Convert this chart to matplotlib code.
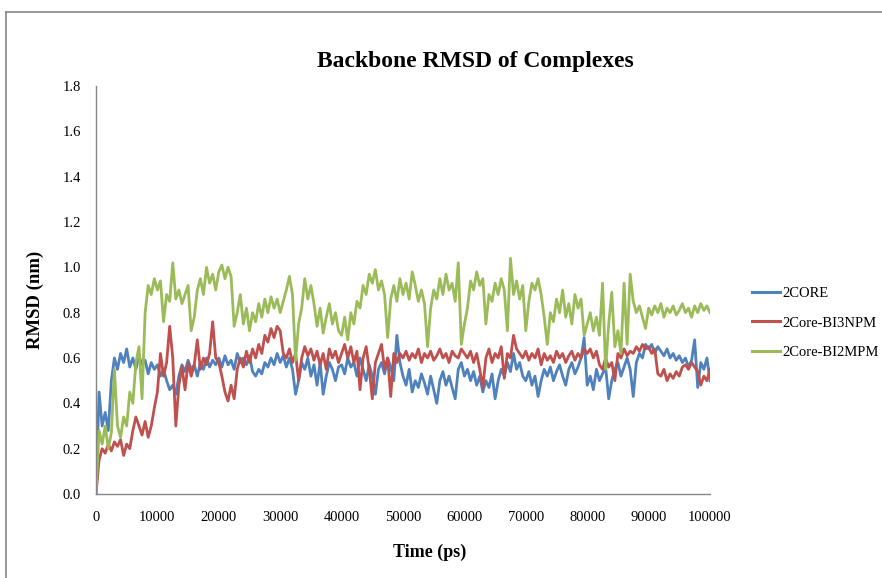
import matplotlib

matplotlib.use("Agg")
import matplotlib.pyplot as plt
import numpy as np
from matplotlib.lines import Line2D


# RMSD values, one value every 500 ps (one row = 10000 ps)
TIME_STEP_PS = 500
CORE = [
    0.00, 0.45, 0.30, 0.36, 0.28, 0.50, 0.60, 0.55, 0.62, 0.58, 0.64, 0.56, 0.60, 0.55, 0.61, 0.57, 0.59, 0.53, 0.58, 0.55,
    0.57, 0.52, 0.55, 0.50, 0.46, 0.48, 0.44, 0.52, 0.57, 0.54, 0.59, 0.55, 0.57, 0.52, 0.58, 0.55, 0.60, 0.56, 0.59, 0.57,
    0.60, 0.56, 0.61, 0.57, 0.59, 0.55, 0.62, 0.58, 0.60, 0.57, 0.61, 0.54, 0.52, 0.55, 0.53, 0.58, 0.56, 0.60, 0.57, 0.62,
    0.58, 0.61, 0.56, 0.60, 0.55, 0.44, 0.50, 0.58, 0.55, 0.60, 0.52, 0.57, 0.48, 0.58, 0.44, 0.52, 0.58, 0.55, 0.50, 0.56,
    0.57, 0.53, 0.60, 0.56, 0.58, 0.52, 0.60, 0.55, 0.50, 0.57, 0.52, 0.44, 0.55, 0.58, 0.53, 0.60, 0.56, 0.50, 0.70, 0.58,
    0.52, 0.48, 0.55, 0.45, 0.50, 0.47, 0.53, 0.49, 0.44, 0.52, 0.46, 0.40, 0.50, 0.54, 0.48, 0.52, 0.47, 0.42, 0.55, 0.58,
    0.52, 0.55, 0.50, 0.54, 0.48, 0.52, 0.45, 0.50, 0.47, 0.53, 0.42, 0.50, 0.55, 0.52, 0.58, 0.54, 0.62, 0.55, 0.58, 0.52,
    0.50, 0.54, 0.48, 0.52, 0.43, 0.50, 0.55, 0.52, 0.56, 0.50, 0.54, 0.57, 0.52, 0.48, 0.55, 0.58, 0.53, 0.56, 0.60, 0.69,
    0.48, 0.52, 0.46, 0.55, 0.50, 0.53, 0.56, 0.42, 0.50, 0.55, 0.58, 0.52, 0.56, 0.60, 0.55, 0.43, 0.58, 0.62, 0.60, 0.66,
    0.64, 0.66, 0.62, 0.65, 0.63, 0.61, 0.64, 0.60, 0.62, 0.59, 0.61, 0.58, 0.60, 0.56, 0.59, 0.68, 0.47, 0.58, 0.55, 0.60,
    0.50,
]
BI3NPM = [
    0.00, 0.15, 0.20, 0.18, 0.22, 0.19, 0.23, 0.21, 0.24, 0.17, 0.22, 0.20, 0.28, 0.34, 0.30, 0.26, 0.32, 0.25, 0.30, 0.38,
    0.45, 0.62, 0.52, 0.58, 0.74, 0.60, 0.30, 0.48, 0.56, 0.46, 0.58, 0.52, 0.57, 0.68, 0.55, 0.60, 0.57, 0.62, 0.76, 0.60,
    0.58, 0.52, 0.45, 0.41, 0.48, 0.42, 0.55, 0.60, 0.56, 0.63, 0.58, 0.64, 0.60, 0.66, 0.62, 0.70, 0.67, 0.73, 0.69, 0.74,
    0.72, 0.62, 0.60, 0.64, 0.58, 0.62, 0.50, 0.60, 0.65, 0.61, 0.64, 0.59, 0.63, 0.57, 0.62, 0.55, 0.64, 0.60, 0.63, 0.58,
    0.62, 0.66, 0.60, 0.65, 0.58, 0.63, 0.46, 0.60, 0.65, 0.55, 0.42, 0.58, 0.62, 0.66, 0.55, 0.60, 0.43, 0.62, 0.58, 0.62,
    0.60, 0.63, 0.59, 0.62, 0.60, 0.64, 0.58, 0.62, 0.60, 0.63, 0.59, 0.61, 0.64, 0.60, 0.62, 0.58, 0.63, 0.61, 0.60, 0.64,
    0.62, 0.60, 0.63, 0.58, 0.62, 0.55, 0.47, 0.60, 0.64, 0.58, 0.62, 0.60, 0.65, 0.51, 0.62, 0.60, 0.70, 0.64, 0.62, 0.60,
    0.63, 0.59, 0.62, 0.60, 0.64, 0.57, 0.62, 0.59, 0.61, 0.58, 0.63, 0.60, 0.62, 0.58, 0.61, 0.63, 0.59, 0.62, 0.60, 0.64,
    0.62, 0.64, 0.60, 0.63, 0.57, 0.55, 0.60, 0.56, 0.58, 0.50, 0.62, 0.60, 0.64, 0.61, 0.63, 0.62, 0.65, 0.63, 0.66, 0.64,
    0.65, 0.62, 0.64, 0.53, 0.52, 0.55, 0.50, 0.53, 0.51, 0.54, 0.52, 0.56, 0.57, 0.55, 0.58, 0.56, 0.54, 0.48, 0.52, 0.50,
    0.55,
]
BI2MPM = [
    0.00, 0.28, 0.22, 0.30, 0.20, 0.27, 0.55, 0.30, 0.25, 0.34, 0.30, 0.45, 0.40, 0.58, 0.65, 0.42, 0.80, 0.92, 0.88, 0.95,
    0.90, 0.94, 0.76, 0.88, 0.85, 1.02, 0.86, 0.90, 0.84, 0.88, 0.92, 0.72, 0.78, 0.90, 0.95, 0.88, 1.00, 0.93, 0.97, 0.90,
    0.98, 1.01, 0.95, 1.00, 0.96, 0.74, 0.80, 0.88, 0.75, 0.82, 0.72, 0.80, 0.76, 0.84, 0.78, 0.86, 0.80, 0.87, 0.82, 0.86,
    0.80, 0.85, 0.90, 0.96, 0.88, 0.59, 0.75, 0.82, 0.95, 0.86, 0.92, 0.84, 0.74, 0.82, 0.71, 0.78, 0.84, 0.75, 0.80, 0.72,
    0.70, 0.78, 0.68, 0.80, 0.75, 0.85, 0.82, 0.92, 0.88, 0.97, 0.93, 0.99, 0.90, 0.94, 0.88, 0.69, 0.86, 0.92, 0.85, 0.95,
    0.88, 0.93, 0.86, 0.98, 0.92, 0.85, 0.90, 0.84, 0.65, 0.82, 0.90, 0.86, 0.95, 0.88, 0.97, 0.90, 0.93, 0.85, 1.02, 0.66,
    0.75, 0.82, 0.94, 0.90, 0.98, 0.92, 0.95, 0.75, 0.88, 0.85, 0.93, 0.88, 0.95, 0.90, 0.72, 1.04, 0.88, 0.94, 0.86, 0.92,
    0.72, 0.85, 0.93, 0.90, 0.95, 0.88, 0.78, 0.66, 0.80, 0.76, 0.86, 0.80, 0.90, 0.78, 0.84, 0.75, 0.88, 0.82, 0.86, 0.70,
    0.75, 0.80, 0.72, 0.78, 0.70, 0.93, 0.55, 0.75, 0.89, 0.65, 0.72, 0.62, 0.93, 0.66, 0.97, 0.85, 0.80, 0.83, 0.78, 0.73,
    0.82, 0.79, 0.83, 0.80, 0.84, 0.78, 0.82, 0.80, 0.83, 0.79, 0.81, 0.84, 0.80, 0.82, 0.78, 0.83, 0.80, 0.84, 0.81, 0.83,
    0.80,
]

SERIES_LABELS = ["2CORE", "2Core-BI3NPM", "2Core-BI2MPM"]
SERIES_COLORS = ["#4F81BD", "#C0504D", "#9BBB59"]
X_TICKS = [0, 10000, 20000, 30000, 40000, 50000, 60000, 70000, 80000, 90000, 100000]
Y_TICKS = [0.0, 0.2, 0.4, 0.6, 0.8, 1.0, 1.2, 1.4, 1.6, 1.8]

FONT = "Liberation Serif"
AXIS_GREY = "#868686"


def main() -> None:
    W, H = 882, 578
    fig = plt.figure(figsize=(W / 100, H / 100), dpi=100)
    ax = fig.add_axes([96 / W, 1 - 494 / H, (710 - 96) / W, (494 - 86) / H])

    series = [CORE, BI3NPM, BI2MPM]
    for values, label, color in zip(series, SERIES_LABELS, SERIES_COLORS):
        t = np.arange(len(values)) * TIME_STEP_PS
        ax.plot(t, values, color=color, lw=2.0, label=label, solid_joinstyle="round")

    ax.set_xlim(0, 100000)
    ax.set_ylim(0, 1.8)
    ax.set_xticks(X_TICKS)
    ax.set_yticks(Y_TICKS)
    ax.set_xticklabels([str(v) for v in X_TICKS], fontfamily=FONT, fontsize=10.5)
    ax.set_yticklabels([f"{v:.1f}" for v in Y_TICKS], fontfamily=FONT, fontsize=10.5)
    ax.tick_params(axis="both", length=0)
    ax.tick_params(axis="y", pad=11)
    ax.tick_params(axis="x", pad=12)
    for side in ("top", "right"):
        ax.spines[side].set_visible(False)
    for side in ("left", "bottom"):
        ax.spines[side].set_color(AXIS_GREY)
        ax.spines[side].set_linewidth(1.0)

    fig.text(475 / W, 1 - 62 / H, "Backbone RMSD of Complexes", ha="center", va="center",
             fontfamily=FONT, fontsize=17, fontweight="bold")
    fig.text(430 / W, 1 - 552 / H, "Time (ps)", ha="center", va="center",
             fontfamily=FONT, fontsize=13, fontweight="bold")
    fig.text(35 / W, 1 - 300 / H, "RMSD (nm)", ha="center", va="center", rotation=90,
             fontfamily=FONT, fontsize=13.5, fontweight="bold")

    handles = [Line2D([], [], color=c, lw=2.2) for c in SERIES_COLORS]
    fig.legend(handles, SERIES_LABELS, loc="center left", bbox_to_anchor=(752 / W, 1 - 323 / H),
               frameon=False, borderpad=0, borderaxespad=0, handlelength=1.9, handletextpad=0.2,
               labelspacing=1.1, prop={"family": FONT, "size": 10.5})

    # chart-area border (clipped at right and bottom like the reference)
    fig.add_artist(Line2D([6 / W, 6 / W], [0, 1 - 12 / H], transform=fig.transFigure, color=AXIS_GREY, lw=1.2))
    fig.add_artist(Line2D([6 / W, 1], [1 - 12 / H, 1 - 12 / H], transform=fig.transFigure, color=AXIS_GREY, lw=1.2))

    fig.savefig("out.png", dpi=100)
    plt.close(fig)


if __name__ == "__main__":
    main()
